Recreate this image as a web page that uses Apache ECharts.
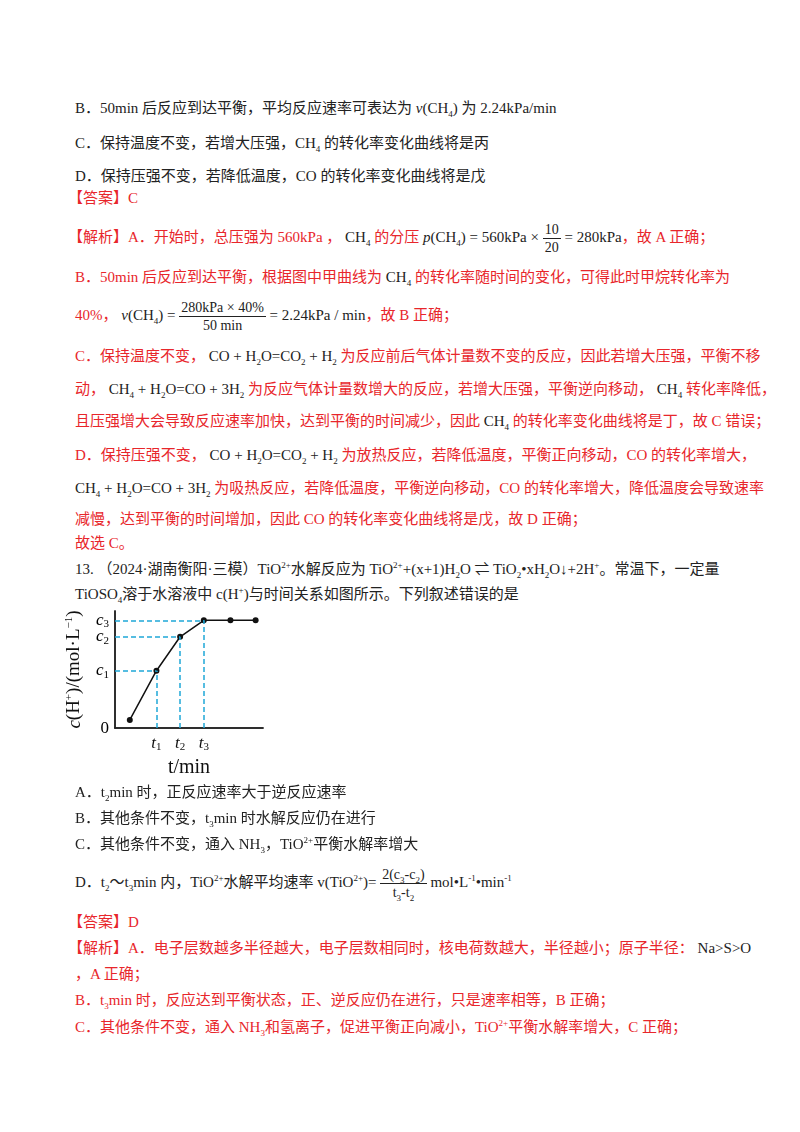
<!DOCTYPE html>
<html><head><meta charset="utf-8">
<script src="https://cdn.jsdelivr.net/npm/echarts@6/dist/echarts.min.js"></script>
<style>
body{margin:0;width:800px;height:1132px;background:#fff;position:relative;font-family:"Liberation Serif","Noto Sans CJK SC",serif;font-size:15px;color:#222;}
.l{position:absolute;left:75px;white-space:nowrap;line-height:20px;}
.r{color:#e8262b;}
sub,sup{font-size:9px;line-height:0;}
.fr{display:inline-flex;flex-direction:column;vertical-align:middle;text-align:center;font-size:14px;line-height:17px;margin-top:-14px;margin-bottom:-14px;}
.fr .n{border-bottom:1px solid currentColor;padding:0 2px;}
#chart{position:absolute;left:0;top:598px;width:300px;height:185px;}
</style></head><body>
<div class="l" style="top:98px">B．50min 后反应到达平衡，平均反应速率可表达为 <i>v</i>(CH<sub>4</sub>) 为 2.24kPa/min</div>
<div class="l" style="top:133px">C．保持温度不变，若增大压强，CH<sub>4</sub> 的转化率变化曲线将是丙</div>
<div class="l" style="top:166px">D．保持压强不变，若降低温度，CO 的转化率变化曲线将是戊</div>
<div class="l r" style="top:188px;left:68px">【答案】C</div>
<div class="l r" style="top:227px;left:68px">【解析】A．开始时，总压强为 560kPa ， <span style="color:#222">CH<sub>4</sub></span> 的分压 <span style="color:#222"><i>p</i>(CH<sub>4</sub>) = 560kPa × <span class="fr"><span class="n">10</span><span>20</span></span> = 280kPa</span>，故 A 正确；</div>
<div class="l r" style="top:267px">B．50min 后反应到达平衡，根据图中甲曲线为 <span style="color:#222">CH<sub>4</sub></span> 的转化率随时间的变化，可得此时甲烷转化率为</div>
<div class="l r" style="top:305px">40%， <span style="color:#222"><i>v</i>(CH<sub>4</sub>) = <span class="fr"><span class="n">280kPa × 40%</span><span>50 min</span></span> = 2.24kPa / min</span>，故 B 正确；</div>
<div class="l r" style="top:346px">C．保持温度不变， <span style="color:#222">CO + H<sub>2</sub>O=CO<sub>2</sub> + H<sub>2</sub></span> 为反应前后气体计量数不变的反应，因此若增大压强，平衡不移</div>
<div class="l r" style="top:379px">动， <span style="color:#222">CH<sub>4</sub> + H<sub>2</sub>O=CO + 3H<sub>2</sub></span> 为反应气体计量数增大的反应，若增大压强，平衡逆向移动， <span style="color:#222">CH<sub>4</sub></span> 转化率降低，</div>
<div class="l r" style="top:411px">且压强增大会导致反应速率加快，达到平衡的时间减少，因此 <span style="color:#222">CH<sub>4</sub></span> 的转化率变化曲线将是丁，故 C 错误；</div>
<div class="l r" style="top:445px">D．保持压强不变， <span style="color:#222">CO + H<sub>2</sub>O=CO<sub>2</sub> + H<sub>2</sub></span> 为放热反应，若降低温度，平衡正向移动，CO 的转化率增大，</div>
<div class="l r" style="top:478px"><span style="color:#222">CH<sub>4</sub> + H<sub>2</sub>O=CO + 3H<sub>2</sub></span> 为吸热反应，若降低温度，平衡逆向移动，CO 的转化率增大，降低温度会导致速率</div>
<div class="l r" style="top:509px">减慢，达到平衡的时间增加，因此 CO 的转化率变化曲线将是戊，故 D 正确；</div>
<div class="l r" style="top:533px">故选 C。</div>
<div class="l" style="top:559px">13. （2024·湖南衡阳·三模）TiO<sup>2+</sup>水解反应为 TiO<sup>2+</sup>+(x+1)H<sub>2</sub>O ⇌ TiO<sub>2</sub>•xH<sub>2</sub>O↓+2H<sup>+</sup>。常温下，一定量</div>
<div class="l" style="top:584px">TiOSO<sub>4</sub>溶于水溶液中 c(H<sup>+</sup>)与时间关系如图所示。下列叙述错误的是</div>
<div id="chart"></div>
<div class="l" style="top:782px">A．t<sub>2</sub>min 时，正反应速率大于逆反应速率</div>
<div class="l" style="top:808px">B．其他条件不变，t<sub>3</sub>min 时水解反应仍在进行</div>
<div class="l" style="top:834px">C．其他条件不变，通入 NH<sub>3</sub>，TiO<sup>2+</sup>平衡水解率增大</div>
<div class="l" style="top:872px">D．t<sub>2</sub>～t<sub>3</sub>min 内，TiO<sup>2+</sup>水解平均速率 v(TiO<sup>2+</sup>)= <span class="fr"><span class="n">2(c<sub>3</sub>-c<sub>2</sub>)</span><span>t<sub>3</sub>-t<sub>2</sub></span></span> mol•L<sup>-1</sup>•min<sup>-1</sup></div>
<div class="l r" style="top:912px;left:68px">【答案】D</div>
<div class="l r" style="top:938px;left:68px">【解析】A．电子层数越多半径越大，电子层数相同时，核电荷数越大，半径越小；原子半径： <span style="color:#222">Na&gt;S&gt;O</span></div>
<div class="l r" style="top:964px">，A 正确；</div>
<div class="l r" style="top:990px">B．t<sub>3</sub>min 时，反应达到平衡状态，正、逆反应仍在进行，只是速率相等，B 正确；</div>
<div class="l r" style="top:1017px">C．其他条件不变，通入 NH<sub>3</sub>和氢离子，促进平衡正向减小，TiO<sup>2+</sup>平衡水解率增大，C 正确；</div>
<script>
const tValues=[1.0,2.8,4.4,6.0,7.8,9.5];
const cValues=[0.7,4.9,7.8,9.2,9.2,9.2];
const xTickVals=[2.8,4.4,6.0];
const xTickLabels=['t1','t2','t3'];
const yTickVals=[0,4.9,7.8,9.2];
const yTickLabels=['0','c1','c2','c3'];
const ch=echarts.init(document.getElementById('chart'));
const dash={color:'#1fa8d8',type:[5,3],width:1.5};
const lines=[];
for(let i=1;i<=3;i++){
  lines.push([{coord:[0,cValues[i]]},{coord:[tValues[i],cValues[i]]}]);
  lines.push([{coord:[tValues[i],0]},{coord:[tValues[i],cValues[i]]}]);
}
const rich={i:{fontStyle:'italic',fontFamily:'Liberation Serif',fontSize:17,color:'#111'},s:{fontFamily:'Liberation Serif',fontSize:11,color:'#111',padding:[8,0,0,0]},n:{fontFamily:'Liberation Serif',fontSize:17,color:'#111'}};
function lab(t){if(t==='0')return '{n|0}';return '{i|'+t[0]+'}{s|'+t[1]+'}';}
const frame={lineStyle:{color:'#222',width:1.5}};
ch.setOption({
  animation:false,
  grid:{left:115,top:13,width:148,height:125},
  xAxis:[{type:'value',min:0,max:10,splitLine:{show:false},
    axisLine:frame,axisTick:{show:false},
    axisLabel:{customValues:xTickVals,hideOverlap:false,formatter:(v)=>lab(xTickLabels[xTickVals.indexOf(v)]),rich:rich,margin:6},
    name:'t/min',nameLocation:'middle',nameGap:28,nameTextStyle:{fontFamily:'Liberation Serif',fontSize:20,color:'#111'}},
    {type:'value',position:'top',min:0,max:10,splitLine:{show:false},axisLine:frame,axisTick:{show:false},axisLabel:{show:false}}],
  yAxis:[{type:'value',min:0,max:10,splitLine:{show:false},
    axisLine:frame,axisTick:{show:false},axisLabel:{show:false},
    name:'{i|c}{n|(H}{s2|+}{n|)/(mol·L}{s2|−1}{n|)}',nameLocation:'middle',nameRotate:90,nameGap:30,
    nameTextStyle:{rich:{i:{fontStyle:'italic',fontFamily:'Liberation Serif',fontSize:19,color:'#111'},n:{fontFamily:'Liberation Serif',fontSize:19,color:'#111'},s2:{fontFamily:'Liberation Serif',fontSize:11,color:'#111',padding:[0,0,10,0]}}}},
    {type:'value',position:'right',min:0,max:10,splitLine:{show:false},axisLine:frame,axisTick:{show:false},axisLabel:{show:false}}],
  series:[{type:'line',data:tValues.map((t,i)=>[t,cValues[i]]),symbol:'circle',symbolSize:6,
    itemStyle:{color:'#111'},lineStyle:{color:'#111',width:1.5},
    markLine:{silent:true,symbol:'none',label:{show:false},lineStyle:dash,data:lines}}]
});
const g=yTickVals.map((v,i)=>{const p=ch.convertToPixel({gridIndex:0},[0,v]);
  return {type:'text',x:p[0]-6,y:p[1],style:{text:lab(yTickLabels[i]),rich:rich,align:'right',verticalAlign:'middle'}};});
ch.setOption({graphic:g});
</script>
</body></html>
